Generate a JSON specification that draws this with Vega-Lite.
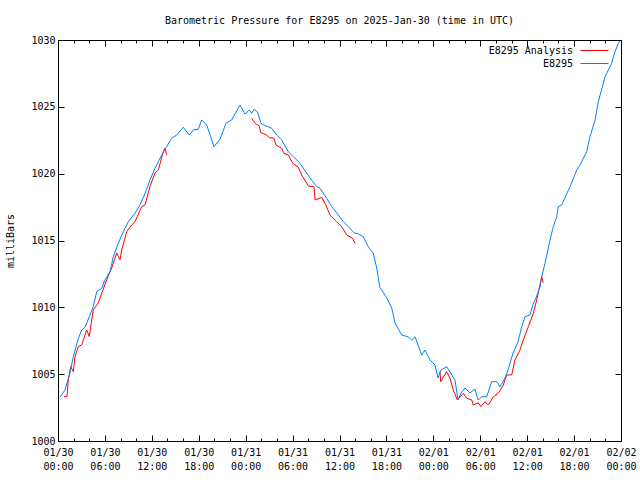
{
  "$schema": "https://vega.github.io/schema/vega-lite/v6.json",
  "width": 563,
  "height": 401,
  "autosize": {"type": "none"},
  "padding": {"left": 58, "top": 40, "right": 19, "bottom": 39},
  "background": "white",
  "title": {
    "text": "Barometric Pressure for E8295 on 2025-Jan-30 (time in UTC)",
    "font": "DejaVu Sans Mono",
    "fontSize": 10,
    "fontWeight": "normal",
    "color": "black",
    "anchor": "middle",
    "frame": "group",
    "offset": 9
  },
  "config": {
    "view": {"stroke": "black", "strokeWidth": 1},
    "axis": {
      "domain": false,
      "grid": false,
      "tickColor": "black",
      "tickWidth": 1,
      "labelFont": "DejaVu Sans Mono",
      "labelFontSize": 10,
      "labelColor": "black",
      "titleFont": "DejaVu Sans Mono",
      "titleFontSize": 10,
      "titleFontWeight": "normal",
      "titleColor": "black"
    }
  },
  "datasets": {
    "analysis": [
      {"series": "E8295 Analysis", "segment": 1, "hour": 0.77, "pressure": 1003.32},
      {"series": "E8295 Analysis", "segment": 1, "hour": 1.15, "pressure": 1003.32},
      {"series": "E8295 Analysis", "segment": 1, "hour": 1.32, "pressure": 1004.57},
      {"series": "E8295 Analysis", "segment": 1, "hour": 1.62, "pressure": 1005.56},
      {"series": "E8295 Analysis", "segment": 1, "hour": 1.96, "pressure": 1005.19},
      {"series": "E8295 Analysis", "segment": 1, "hour": 2.17, "pressure": 1006.31},
      {"series": "E8295 Analysis", "segment": 1, "hour": 2.6, "pressure": 1007.06},
      {"series": "E8295 Analysis", "segment": 1, "hour": 3.03, "pressure": 1007.19},
      {"series": "E8295 Analysis", "segment": 1, "hour": 3.67, "pressure": 1008.31},
      {"series": "E8295 Analysis", "segment": 1, "hour": 4.0, "pressure": 1007.81},
      {"series": "E8295 Analysis", "segment": 1, "hour": 4.51, "pressure": 1009.81},
      {"series": "E8295 Analysis", "segment": 1, "hour": 5.15, "pressure": 1010.33},
      {"series": "E8295 Analysis", "segment": 1, "hour": 5.75, "pressure": 1011.3},
      {"series": "E8295 Analysis", "segment": 1, "hour": 6.39, "pressure": 1012.3},
      {"series": "E8295 Analysis", "segment": 1, "hour": 6.87, "pressure": 1012.95},
      {"series": "E8295 Analysis", "segment": 1, "hour": 7.51, "pressure": 1014.07},
      {"series": "E8295 Analysis", "segment": 1, "hour": 7.93, "pressure": 1013.55},
      {"series": "E8295 Analysis", "segment": 1, "hour": 8.15, "pressure": 1014.29},
      {"series": "E8295 Analysis", "segment": 1, "hour": 8.79, "pressure": 1015.66},
      {"series": "E8295 Analysis", "segment": 1, "hour": 9.42, "pressure": 1016.16},
      {"series": "E8295 Analysis", "segment": 1, "hour": 9.85, "pressure": 1016.41},
      {"series": "E8295 Analysis", "segment": 1, "hour": 10.7, "pressure": 1017.53},
      {"series": "E8295 Analysis", "segment": 1, "hour": 11.13, "pressure": 1017.66},
      {"series": "E8295 Analysis", "segment": 1, "hour": 11.76, "pressure": 1019.03},
      {"series": "E8295 Analysis", "segment": 1, "hour": 12.4, "pressure": 1020.05},
      {"series": "E8295 Analysis", "segment": 1, "hour": 12.83, "pressure": 1020.28},
      {"series": "E8295 Analysis", "segment": 1, "hour": 13.47, "pressure": 1021.65},
      {"series": "E8295 Analysis", "segment": 1, "hour": 13.68, "pressure": 1021.92},
      {"series": "E8295 Analysis", "segment": 1, "hour": 13.9, "pressure": 1021.4},
      {"series": "E8295 Analysis", "segment": 2, "hour": 24.77, "pressure": 1024.14},
      {"series": "E8295 Analysis", "segment": 2, "hour": 25.19, "pressure": 1023.77},
      {"series": "E8295 Analysis", "segment": 2, "hour": 25.74, "pressure": 1023.57},
      {"series": "E8295 Analysis", "segment": 2, "hour": 25.92, "pressure": 1023.07},
      {"series": "E8295 Analysis", "segment": 2, "hour": 26.69, "pressure": 1022.89},
      {"series": "E8295 Analysis", "segment": 2, "hour": 27.02, "pressure": 1022.69},
      {"series": "E8295 Analysis", "segment": 2, "hour": 27.62, "pressure": 1022.65},
      {"series": "E8295 Analysis", "segment": 2, "hour": 27.88, "pressure": 1022.14},
      {"series": "E8295 Analysis", "segment": 2, "hour": 28.61, "pressure": 1021.9},
      {"series": "E8295 Analysis", "segment": 2, "hour": 28.9, "pressure": 1021.52},
      {"series": "E8295 Analysis", "segment": 2, "hour": 29.45, "pressure": 1021.4},
      {"series": "E8295 Analysis", "segment": 2, "hour": 30.01, "pressure": 1020.78},
      {"series": "E8295 Analysis", "segment": 2, "hour": 30.73, "pressure": 1020.48},
      {"series": "E8295 Analysis", "segment": 2, "hour": 31.17, "pressure": 1019.9},
      {"series": "E8295 Analysis", "segment": 2, "hour": 31.81, "pressure": 1019.28},
      {"series": "E8295 Analysis", "segment": 2, "hour": 32.01, "pressure": 1019.08},
      {"series": "E8295 Analysis", "segment": 2, "hour": 32.74, "pressure": 1019.03},
      {"series": "E8295 Analysis", "segment": 2, "hour": 32.87, "pressure": 1018.03},
      {"series": "E8295 Analysis", "segment": 2, "hour": 33.72, "pressure": 1018.23},
      {"series": "E8295 Analysis", "segment": 2, "hour": 34.15, "pressure": 1017.78},
      {"series": "E8295 Analysis", "segment": 2, "hour": 34.79, "pressure": 1016.91},
      {"series": "E8295 Analysis", "segment": 2, "hour": 35.64, "pressure": 1016.41},
      {"series": "E8295 Analysis", "segment": 2, "hour": 36.28, "pressure": 1016.03},
      {"series": "E8295 Analysis", "segment": 2, "hour": 36.92, "pressure": 1015.41},
      {"series": "E8295 Analysis", "segment": 2, "hour": 37.69, "pressure": 1015.16},
      {"series": "E8295 Analysis", "segment": 2, "hour": 37.98, "pressure": 1014.79},
      {"series": "E8295 Analysis", "segment": 3, "hour": 48.85, "pressure": 1005.19},
      {"series": "E8295 Analysis", "segment": 3, "hour": 48.94, "pressure": 1004.44},
      {"series": "E8295 Analysis", "segment": 3, "hour": 49.71, "pressure": 1005.19},
      {"series": "E8295 Analysis", "segment": 3, "hour": 50.13, "pressure": 1004.69},
      {"series": "E8295 Analysis", "segment": 3, "hour": 50.55, "pressure": 1003.82},
      {"series": "E8295 Analysis", "segment": 3, "hour": 51.07, "pressure": 1003.07},
      {"series": "E8295 Analysis", "segment": 3, "hour": 51.83, "pressure": 1003.57},
      {"series": "E8295 Analysis", "segment": 3, "hour": 52.27, "pressure": 1003.2},
      {"series": "E8295 Analysis", "segment": 3, "hour": 52.91, "pressure": 1003.07},
      {"series": "E8295 Analysis", "segment": 3, "hour": 53.11, "pressure": 1002.69},
      {"series": "E8295 Analysis", "segment": 3, "hour": 53.75, "pressure": 1002.87},
      {"series": "E8295 Analysis", "segment": 3, "hour": 54.06, "pressure": 1002.57},
      {"series": "E8295 Analysis", "segment": 3, "hour": 54.61, "pressure": 1002.94},
      {"series": "E8295 Analysis", "segment": 3, "hour": 55.03, "pressure": 1002.69},
      {"series": "E8295 Analysis", "segment": 3, "hour": 55.67, "pressure": 1003.31},
      {"series": "E8295 Analysis", "segment": 3, "hour": 56.31, "pressure": 1003.57},
      {"series": "E8295 Analysis", "segment": 3, "hour": 56.95, "pressure": 1004.19},
      {"series": "E8295 Analysis", "segment": 3, "hour": 57.38, "pressure": 1004.94},
      {"series": "E8295 Analysis", "segment": 3, "hour": 58.02, "pressure": 1004.94},
      {"series": "E8295 Analysis", "segment": 3, "hour": 58.44, "pressure": 1006.06},
      {"series": "E8295 Analysis", "segment": 3, "hour": 59.08, "pressure": 1006.81},
      {"series": "E8295 Analysis", "segment": 3, "hour": 59.51, "pressure": 1007.56},
      {"series": "E8295 Analysis", "segment": 3, "hour": 60.15, "pressure": 1008.55},
      {"series": "E8295 Analysis", "segment": 3, "hour": 60.79, "pressure": 1009.55},
      {"series": "E8295 Analysis", "segment": 3, "hour": 61.22, "pressure": 1010.55},
      {"series": "E8295 Analysis", "segment": 3, "hour": 61.64, "pressure": 1011.67},
      {"series": "E8295 Analysis", "segment": 3, "hour": 61.86, "pressure": 1012.29},
      {"series": "E8295 Analysis", "segment": 3, "hour": 62.06, "pressure": 1011.84}
    ],
    "station": [
      {"series": "E8295", "hour": 0.26, "pressure": 1003.27},
      {"series": "E8295", "hour": 0.9, "pressure": 1003.82},
      {"series": "E8295", "hour": 1.53, "pressure": 1005.09},
      {"series": "E8295", "hour": 1.96, "pressure": 1006.31},
      {"series": "E8295", "hour": 2.6, "pressure": 1007.68},
      {"series": "E8295", "hour": 3.03, "pressure": 1008.3},
      {"series": "E8295", "hour": 3.45, "pressure": 1008.51},
      {"series": "E8295", "hour": 4.0, "pressure": 1009.3},
      {"series": "E8295", "hour": 4.51, "pressure": 1010.05},
      {"series": "E8295", "hour": 4.95, "pressure": 1011.17},
      {"series": "E8295", "hour": 5.59, "pressure": 1011.42},
      {"series": "E8295", "hour": 6.01, "pressure": 1012.05},
      {"series": "E8295", "hour": 6.65, "pressure": 1012.67},
      {"series": "E8295", "hour": 7.07, "pressure": 1013.79},
      {"series": "E8295", "hour": 7.71, "pressure": 1014.79},
      {"series": "E8295", "hour": 8.35, "pressure": 1015.66},
      {"series": "E8295", "hour": 8.99, "pressure": 1016.41},
      {"series": "E8295", "hour": 9.85, "pressure": 1017.03},
      {"series": "E8295", "hour": 10.49, "pressure": 1017.66},
      {"series": "E8295", "hour": 11.13, "pressure": 1018.53},
      {"series": "E8295", "hour": 11.77, "pressure": 1019.53},
      {"series": "E8295", "hour": 12.41, "pressure": 1020.4},
      {"series": "E8295", "hour": 12.83, "pressure": 1020.9},
      {"series": "E8295", "hour": 13.26, "pressure": 1021.4},
      {"series": "E8295", "hour": 13.9, "pressure": 1022.02},
      {"series": "E8295", "hour": 14.54, "pressure": 1022.65},
      {"series": "E8295", "hour": 15.18, "pressure": 1022.89},
      {"series": "E8295", "hour": 16.02, "pressure": 1023.47},
      {"series": "E8295", "hour": 16.79, "pressure": 1022.89},
      {"series": "E8295", "hour": 17.3, "pressure": 1023.27},
      {"series": "E8295", "hour": 17.94, "pressure": 1023.32},
      {"series": "E8295", "hour": 18.38, "pressure": 1024.02},
      {"series": "E8295", "hour": 19.02, "pressure": 1023.64},
      {"series": "E8295", "hour": 19.95, "pressure": 1022.02},
      {"series": "E8295", "hour": 20.72, "pressure": 1022.57},
      {"series": "E8295", "hour": 21.48, "pressure": 1023.77},
      {"series": "E8295", "hour": 22.21, "pressure": 1024.02},
      {"series": "E8295", "hour": 23.28, "pressure": 1025.14},
      {"series": "E8295", "hour": 23.91, "pressure": 1024.46},
      {"series": "E8295", "hour": 24.46, "pressure": 1024.76},
      {"series": "E8295", "hour": 24.77, "pressure": 1024.52},
      {"series": "E8295", "hour": 25.07, "pressure": 1024.82},
      {"series": "E8295", "hour": 25.49, "pressure": 1024.64},
      {"series": "E8295", "hour": 25.96, "pressure": 1023.77},
      {"series": "E8295", "hour": 26.26, "pressure": 1023.66},
      {"series": "E8295", "hour": 26.89, "pressure": 1023.51},
      {"series": "E8295", "hour": 27.33, "pressure": 1023.39},
      {"series": "E8295", "hour": 27.97, "pressure": 1022.89},
      {"series": "E8295", "hour": 28.61, "pressure": 1022.52},
      {"series": "E8295", "hour": 29.45, "pressure": 1021.64},
      {"series": "E8295", "hour": 30.31, "pressure": 1021.15},
      {"series": "E8295", "hour": 30.95, "pressure": 1020.78},
      {"series": "E8295", "hour": 31.81, "pressure": 1020.03},
      {"series": "E8295", "hour": 32.44, "pressure": 1019.53},
      {"series": "E8295", "hour": 33.08, "pressure": 1019.03},
      {"series": "E8295", "hour": 33.51, "pressure": 1018.91},
      {"series": "E8295", "hour": 34.36, "pressure": 1018.16},
      {"series": "E8295", "hour": 35.0, "pressure": 1017.53},
      {"series": "E8295", "hour": 35.85, "pressure": 1016.91},
      {"series": "E8295", "hour": 36.49, "pressure": 1016.41},
      {"series": "E8295", "hour": 37.13, "pressure": 1016.03},
      {"series": "E8295", "hour": 37.85, "pressure": 1015.58},
      {"series": "E8295", "hour": 38.4, "pressure": 1015.49},
      {"series": "E8295", "hour": 39.04, "pressure": 1015.28},
      {"series": "E8295", "hour": 39.68, "pressure": 1014.54},
      {"series": "E8295", "hour": 40.32, "pressure": 1014.04},
      {"series": "E8295", "hour": 40.76, "pressure": 1012.94},
      {"series": "E8295", "hour": 41.18, "pressure": 1011.42},
      {"series": "E8295", "hour": 41.4, "pressure": 1011.3},
      {"series": "E8295", "hour": 42.04, "pressure": 1010.7},
      {"series": "E8295", "hour": 42.68, "pressure": 1009.95},
      {"series": "E8295", "hour": 43.1, "pressure": 1008.83},
      {"series": "E8295", "hour": 43.96, "pressure": 1007.93},
      {"series": "E8295", "hour": 44.76, "pressure": 1007.8},
      {"series": "E8295", "hour": 45.23, "pressure": 1007.56},
      {"series": "E8295", "hour": 45.66, "pressure": 1007.8},
      {"series": "E8295", "hour": 46.51, "pressure": 1006.43},
      {"series": "E8295", "hour": 46.93, "pressure": 1006.81},
      {"series": "E8295", "hour": 47.57, "pressure": 1006.06},
      {"series": "E8295", "hour": 48.21, "pressure": 1005.69},
      {"series": "E8295", "hour": 48.6, "pressure": 1004.71},
      {"series": "E8295", "hour": 48.98, "pressure": 1005.31},
      {"series": "E8295", "hour": 49.71, "pressure": 1005.56},
      {"series": "E8295", "hour": 50.13, "pressure": 1005.16},
      {"series": "E8295", "hour": 50.77, "pressure": 1004.56},
      {"series": "E8295", "hour": 51.16, "pressure": 1003.07},
      {"series": "E8295", "hour": 51.54, "pressure": 1003.59},
      {"series": "E8295", "hour": 52.05, "pressure": 1003.97},
      {"series": "E8295", "hour": 52.69, "pressure": 1003.59},
      {"series": "E8295", "hour": 53.33, "pressure": 1003.89},
      {"series": "E8295", "hour": 53.71, "pressure": 1003.07},
      {"series": "E8295", "hour": 54.19, "pressure": 1003.31},
      {"series": "E8295", "hour": 54.83, "pressure": 1003.31},
      {"series": "E8295", "hour": 55.46, "pressure": 1004.44},
      {"series": "E8295", "hour": 56.1, "pressure": 1004.44},
      {"series": "E8295", "hour": 56.53, "pressure": 1004.06},
      {"series": "E8295", "hour": 57.17, "pressure": 1004.71},
      {"series": "E8295", "hour": 57.55, "pressure": 1005.31},
      {"series": "E8295", "hour": 58.19, "pressure": 1006.58},
      {"series": "E8295", "hour": 58.83, "pressure": 1007.41},
      {"series": "E8295", "hour": 59.3, "pressure": 1008.55},
      {"series": "E8295", "hour": 59.72, "pressure": 1009.3},
      {"series": "E8295", "hour": 60.36, "pressure": 1009.43},
      {"series": "E8295", "hour": 60.79, "pressure": 1010.3},
      {"series": "E8295", "hour": 61.13, "pressure": 1010.7},
      {"series": "E8295", "hour": 61.64, "pressure": 1011.54},
      {"series": "E8295", "hour": 61.86, "pressure": 1012.29},
      {"series": "E8295", "hour": 62.28, "pressure": 1013.29},
      {"series": "E8295", "hour": 62.92, "pressure": 1015.04},
      {"series": "E8295", "hour": 63.34, "pressure": 1016.03},
      {"series": "E8295", "hour": 63.78, "pressure": 1016.78},
      {"series": "E8295", "hour": 63.98, "pressure": 1017.53},
      {"series": "E8295", "hour": 64.42, "pressure": 1017.66},
      {"series": "E8295", "hour": 65.48, "pressure": 1019.03},
      {"series": "E8295", "hour": 66.34, "pressure": 1020.27},
      {"series": "E8295", "hour": 66.76, "pressure": 1020.65},
      {"series": "E8295", "hour": 67.61, "pressure": 1021.64},
      {"series": "E8295", "hour": 68.04, "pressure": 1022.77},
      {"series": "E8295", "hour": 68.68, "pressure": 1024.02},
      {"series": "E8295", "hour": 69.1, "pressure": 1025.38},
      {"series": "E8295", "hour": 69.96, "pressure": 1027.25},
      {"series": "E8295", "hour": 70.38, "pressure": 1027.76},
      {"series": "E8295", "hour": 70.81, "pressure": 1028.26},
      {"series": "E8295", "hour": 71.23, "pressure": 1029.12},
      {"series": "E8295", "hour": 71.66, "pressure": 1029.75},
      {"series": "E8295", "hour": 71.87, "pressure": 1029.93}
    ]
  },
  "layer": [
    {
      "data": {"name": "analysis"},
      "mark": {"type": "line", "strokeWidth": 1, "interpolate": "linear"},
      "encoding": {
        "x": {
          "field": "hour",
          "type": "quantitative",
          "scale": {"domain": [0, 72], "nice": false, "zero": false},
          "axis": {
            "orient": "bottom",
            "title": null,
            "values": [0, 2, 4, 6, 8, 10, 12, 14, 16, 18, 20, 22, 24, 26, 28, 30, 32, 34, 36, 38, 40, 42, 44, 46, 48, 50, 52, 54, 56, 58, 60, 62, 64, 66, 68, 70, 72],
            "labelExpr": "datum.value % 6 === 0 ? [['01/30','01/31','02/01','02/02'][floor(datum.value / 24)], ['00:00','06:00','12:00','18:00'][(datum.value % 24) / 6]] : ''",
            "labelOverlap": false,
            "labelFlush": false,
            "labelLineHeight": 14,
            "labelPadding": 12,
            "labelBaseline": "top",
            "tickSize": {"condition": {"test": "datum.value % 6 === 0", "value": -6}, "value": -3}
          }
        },
        "y": {
          "field": "pressure",
          "type": "quantitative",
          "scale": {"domain": [1000, 1030], "nice": false, "zero": false},
          "axis": {
            "orient": "left",
            "title": "milliBars",
            "titlePadding": 15,
            "values": [1000, 1005, 1010, 1015, 1020, 1025, 1030],
            "format": "d",
            "labelFlush": false,
            "labelPadding": 9,
            "tickSize": -6
          }
        },
        "color": {
          "field": "series",
          "type": "nominal",
          "scale": {"domain": ["E8295 Analysis", "E8295"], "range": ["#ff0000", "#0080ff"]},
          "legend": {
            "title": null,
            "orient": "none",
            "legendX": 522,
            "legendY": 3,
            "padding": 0,
            "symbolType": "M-2,0H2",
            "symbolSize": 196,
            "symbolStrokeWidth": 1,
            "symbolOffset": 7,
            "labelAlign": "right",
            "labelOffset": -29,
            "labelFont": "DejaVu Sans Mono",
            "labelFontSize": 10,
            "labelColor": "black",
            "rowPadding": -2
          }
        },
        "detail": {"field": "segment", "type": "nominal"}
      }
    },
    {
      "data": {"name": "station"},
      "mark": {"type": "line", "strokeWidth": 1, "interpolate": "linear"},
      "encoding": {
        "x": {
          "field": "hour",
          "type": "quantitative",
          "axis": {
            "orient": "top",
            "title": null,
            "labels": false,
            "values": [0, 2, 4, 6, 8, 10, 12, 14, 16, 18, 20, 22, 24, 26, 28, 30, 32, 34, 36, 38, 40, 42, 44, 46, 48, 50, 52, 54, 56, 58, 60, 62, 64, 66, 68, 70, 72],
            "tickSize": {"condition": {"test": "datum.value % 6 === 0", "value": -6}, "value": -3}
          }
        },
        "y": {
          "field": "pressure",
          "type": "quantitative",
          "axis": {
            "orient": "right",
            "title": null,
            "labels": false,
            "values": [1000, 1005, 1010, 1015, 1020, 1025, 1030],
            "tickSize": -6
          }
        },
        "color": {"field": "series", "type": "nominal"}
      }
    }
  ],
  "resolve": {"axis": {"x": "independent", "y": "independent"}}
}
